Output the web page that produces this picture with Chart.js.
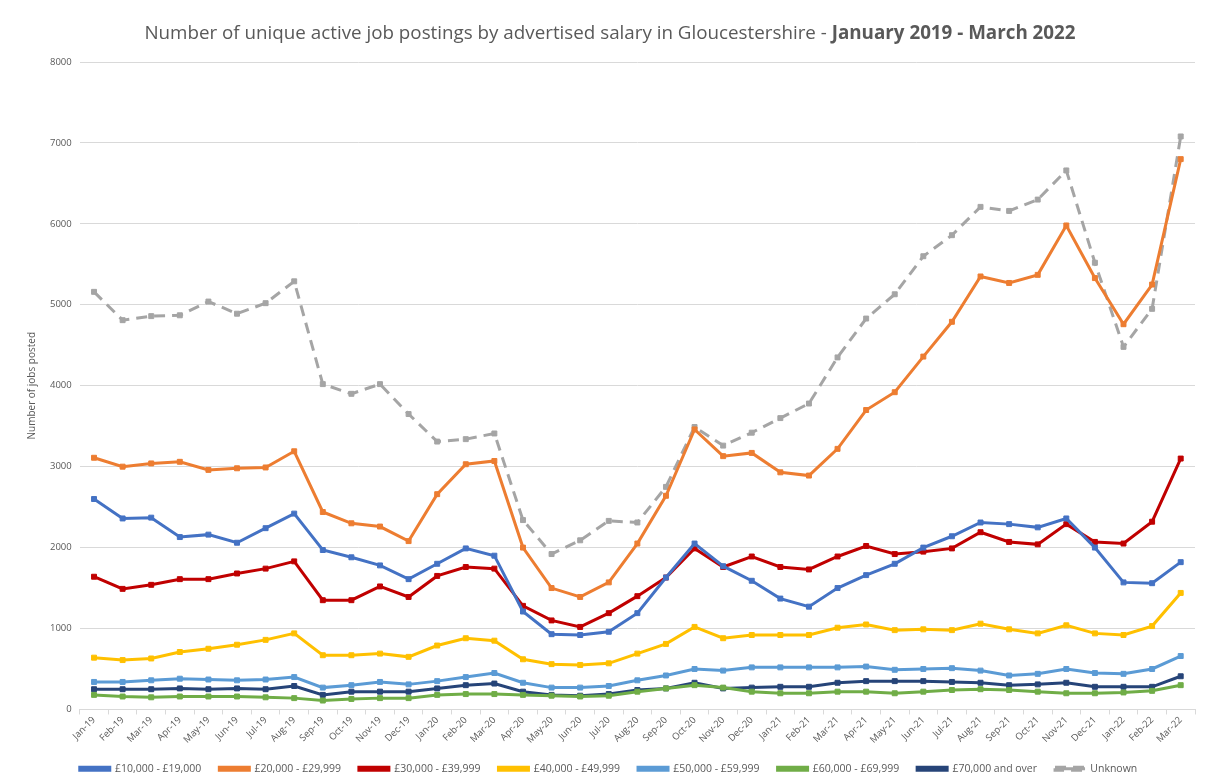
<!DOCTYPE html>
<html>
<head>
<meta charset="utf-8">
<script src="https://cdn.jsdelivr.net/npm/chart.js@4"></script>
<style>
  body { margin: 0; background: #fff; }
  #wrap { position: relative; width: 1205px; height: 784px; }
  #title {
    position: absolute; top: 19px; left: 0; width: 1220px; text-align: center;
    font-family: "Open Sans", sans-serif; font-size: 18.8px; color: #595959;
  }
</style>
</head>
<body>
<div id="wrap">
  <div id="title">Number of unique active job postings by advertised salary in Gloucestershire - <b>January 2019 - March 2022</b></div>
  <canvas id="lineChart"></canvas>
</div>
<script>
const months = ["Jan-19","Feb-19","Mar-19","Apr-19","May-19","Jun-19","Jul-19","Aug-19","Sep-19","Oct-19","Nov-19","Dec-19",
  "Jan-20","Feb-20","Mar-20","Apr-20","May-20","Jun-20","Jul-20","Aug-20","Sep-20","Oct-20","Nov-20","Dec-20",
  "Jan-21","Feb-21","Mar-21","Apr-21","May-21","Jun-21","Jul-21","Aug-21","Sep-21","Oct-21","Nov-21","Dec-21",
  "Jan-22","Feb-22","Mar-22"];

const salary10k = [2600,2360,2370,2130,2160,2060,2240,2420,1970,1880,1780,1610,1800,1990,1900,1210,930,920,960,1190,1630,2050,1770,1590,1370,1270,1500,1660,1800,2000,2140,2310,2290,2250,2360,2000,1570,1560,1820];
const salary20k = [3110,3000,3040,3060,2960,2980,2990,3190,2440,2300,2260,2080,2660,3030,3070,2000,1500,1390,1570,2050,2640,3460,3130,3170,2930,2890,3220,3700,3920,4360,4790,5350,5270,5370,5980,5330,4760,5250,6800];
const salary30k = [1640,1490,1540,1610,1610,1680,1740,1830,1350,1350,1520,1390,1650,1760,1740,1280,1100,1020,1190,1400,1630,1990,1760,1890,1760,1730,1890,2020,1920,1950,1990,2190,2070,2040,2290,2070,2050,2320,3100];
const salary40k = [640,610,630,710,750,800,860,940,670,670,690,650,790,880,850,620,560,550,570,690,810,1020,880,920,920,920,1010,1050,980,990,980,1060,990,940,1040,940,920,1030,1440];
const salary50k = [340,340,360,380,370,360,370,400,270,300,340,310,350,400,450,330,270,270,290,360,420,500,480,520,520,520,520,530,490,500,510,480,420,440,500,450,440,500,660];
const salary60k = [180,160,150,160,160,160,150,140,110,130,140,140,180,190,190,180,170,160,170,220,260,300,270,220,200,200,220,220,200,220,240,250,240,220,200,200,210,230,300];
const salary70k = [250,250,250,260,250,260,250,290,180,220,220,220,260,300,320,220,180,170,190,240,260,330,260,270,280,280,330,350,350,350,340,330,300,310,330,280,280,280,410];
const unknown = [5160,4810,4860,4870,5040,4890,5020,5290,4020,3900,4020,3650,3310,3340,3410,2340,1920,2090,2330,2310,2750,3490,3260,3420,3600,3780,4350,4830,5130,5600,5860,6210,6160,6300,6660,5520,4480,4950,7080];

const yTicks = [0,1000,2000,3000,4000,5000,6000,7000,8000];

function series(label, data, color, dash) {
  return {
    label: label,
    data: data,
    borderColor: color,
    backgroundColor: color,
    borderWidth: 3,
    borderDash: dash || [],
    pointStyle: "rect",
    pointRadius: 3.5,
    pointHoverRadius: 4,
    pointBorderWidth: 1,
    tension: 0,
  };
}

const data = {
  labels: months,
  datasets: [
    series("£10,000 - £19,000", salary10k, "#4472C4"),
    series("£20,000 - £29,999", salary20k, "#ED7D31"),
    series("£30,000 - £39,999", salary30k, "#C00000"),
    series("£40,000 - £49,999", salary40k, "#FFC000"),
    series("£50,000 - £59,999", salary50k, "#5B9BD5"),
    series("£60,000 - £69,999", salary60k, "#70AD47"),
    series("£70,000 and over", salary70k, "#264478"),
    series("Unknown", unknown, "#A5A5A5", [11, 7]),
  ],
};

const ctx = document.getElementById("lineChart").getContext("2d");
new Chart(ctx, {
  type: "line",
  data: data,
  options: {
    responsive: true,
    maintainAspectRatio: false,
    animation: false,
    layout: { padding: { top: 62, right: 10, left: 22, bottom: 0 } },
    scales: {
      x: {
        offset: true,
        grid: { display: true, drawOnChartArea: false, offset: true, tickLength: 5, color: "#d9d9d9" },
        border: { color: "#d9d9d9" },
        ticks: {
          color: "#595959",
          font: { family: "Open Sans", size: 9.5 },
          minRotation: 45,
          maxRotation: 45,
          autoSkip: false,
          padding: 0,
        },
      },
      y: {
        min: 0,
        max: 8000,
        afterBuildTicks: (axis) => { axis.ticks = yTicks.map((v) => ({ value: v })); },
        grid: { color: "#d9d9d9", drawTicks: false },
        border: { display: false },
        ticks: {
          color: "#595959",
          font: { family: "Open Sans", size: 9.5 },
          padding: 8,
          callback: (v) => String(v),
        },
        title: {
          display: true,
          text: "Number of jobs posted",
          color: "#595959",
          font: { family: "Open Sans", size: 10 },
        },
      },
    },
    plugins: {
      legend: {
        display: true,
        position: "bottom",
        labels: {
          color: "#595959",
          font: { family: "Open Sans", size: 10.5 },
          boxWidth: 30,
          boxHeight: 3,
          padding: 18,
        },
      },
      tooltip: { enabled: false },
    },
  },
});
</script>
</body>
</html>
